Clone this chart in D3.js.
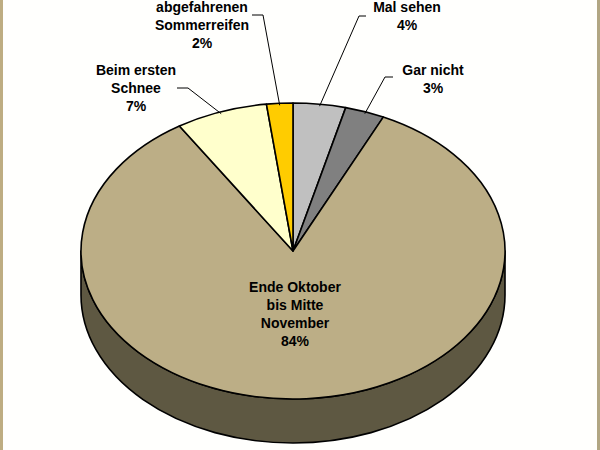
<!DOCTYPE html>
<html>
<head>
<meta charset="utf-8">
<script src="https://cdn.jsdelivr.net/npm/d3@7"></script>
<style>
  html, body { margin: 0; padding: 0; background: #fffffd; }
  svg { display: block; }
</style>
</head>
<body>
<div class="chart"></div>
<script>
// data, clockwise from 12 o'clock
const categories = ["Mal sehen", "Gar nicht", "Ende Oktober bis Mitte November", "Beim ersten Schnee", "abgefahrenen Sommerreifen"];
const values = [4, 3, 84, 7, 2];
const labelLines = [
    ["Mal sehen"],
    ["Gar nicht"],
    ["Ende Oktober", "bis Mitte", "November"],
    ["Beim ersten", "Schnee"],
    ["abgefahrenen", "Sommerreifen"]
];
const colors = ["#c0c0c0", "#808080", "#bcae86", "#ffffcc", "#ffcc00"];

const width = 600, height = 450;
const cx = 293, cy = 251, rx = 212, ry = 148, depth = 44;
const lineH = 18;

// label layout: text centre x, first baseline y, leader elbow (null = label inside)
const labelLayout = [
    {x: 407, y: 12, leader: [[366, 16], [359, 16]]},
    {x: 433, y: 74.5, leader: [[393, 77], [385, 77]]},
    {x: 295, y: 292, leader: null},
    {x: 136, y: 75, leader: [[177, 88], [188, 88]]},
    {x: 202, y: 11.5, leader: [[252, 15], [263, 15]]}
];

const svg = d3.select(".chart").append("svg")
    .attr("width", width)
    .attr("height", height);

svg.append("rect")
    .attr("width", width).attr("height", height)
    .attr("fill", "#fffffd");
svg.append("rect")
    .attr("x", 0).attr("width", 3).attr("height", height)
    .attr("fill", "#bead82");
svg.append("rect")
    .attr("x", 597).attr("width", 3).attr("height", height)
    .attr("fill", "#b1a683");

const pie = d3.pie().sort(null).value(d => d)(values);

// projected point on the ellipse for a d3 angle
const px = a => cx + rx * Math.sin(a);
const py = a => cy - ry * Math.cos(a);

function topPath(d) {
    const a0 = d.startAngle, a1 = d.endAngle;
    const large = (a1 - a0) > Math.PI ? 1 : 0;
    return `M${cx},${cy}L${px(a0)},${py(a0)}A${rx},${ry} 0 ${large} 1 ${px(a1)},${py(a1)}Z`;
}

function sidePath(d) {
    const a0 = Math.max(d.startAngle, Math.PI / 2);
    const a1 = Math.min(d.endAngle, Math.PI * 3 / 2);
    if (a1 <= a0) return null;
    return `M${px(a0)},${py(a0)}A${rx},${ry} 0 0 1 ${px(a1)},${py(a1)}` +
        `L${px(a1)},${py(a1) + depth}A${rx},${ry} 0 0 0 ${px(a0)},${py(a0) + depth}Z`;
}

const shade = c => d3.color(c).darker(1.3).formatHex();

svg.append("g")
    .selectAll("path")
    .data(pie.filter(d => sidePath(d)))
    .join("path")
    .attr("d", sidePath)
    .attr("fill", (d, i) => d.index === 2 ? "#5e5842" : shade(colors[d.index]))
    .attr("stroke", "black")
    .attr("stroke-width", 1.6)
    .attr("stroke-linejoin", "round");

svg.append("g")
    .selectAll("path")
    .data(pie)
    .join("path")
    .attr("d", topPath)
    .attr("fill", d => colors[d.index])
    .attr("stroke", "black")
    .attr("stroke-width", 1.6)
    .attr("stroke-linejoin", "round");

// leader lines
const fmt = d3.format(".0%");
svg.append("g")
    .selectAll("polyline")
    .data(pie.filter(d => labelLayout[d.index].leader))
    .join("polyline")
    .attr("points", d => {
        const m = (d.startAngle + d.endAngle) / 2;
        const pts = labelLayout[d.index].leader.concat([[px(m), py(m) + 2]]);
        return pts.map(p => p.join(",")).join(" ");
    })
    .attr("fill", "none")
    .attr("stroke", "black")
    .attr("stroke-width", 1);

const labels = svg.append("g")
    .attr("font-family", "Arial, 'Liberation Sans', sans-serif")
    .attr("font-weight", "bold")
    .attr("font-size", 14)
    .attr("fill", "#000")
    .attr("text-anchor", "middle")
    .selectAll("text")
    .data(pie)
    .join("text")
    .attr("x", d => labelLayout[d.index].x)
    .attr("y", d => labelLayout[d.index].y);

labels.selectAll("tspan")
    .data(d => labelLines[d.index].concat([fmt(d.data / 100)])
        .map((t, j) => ({t, j, x: labelLayout[d.index].x})))
    .join("tspan")
    .attr("x", d => d.x)
    .attr("dy", d => d.j === 0 ? 0 : lineH)
    .text(d => d.t);
</script>
</body>
</html>
